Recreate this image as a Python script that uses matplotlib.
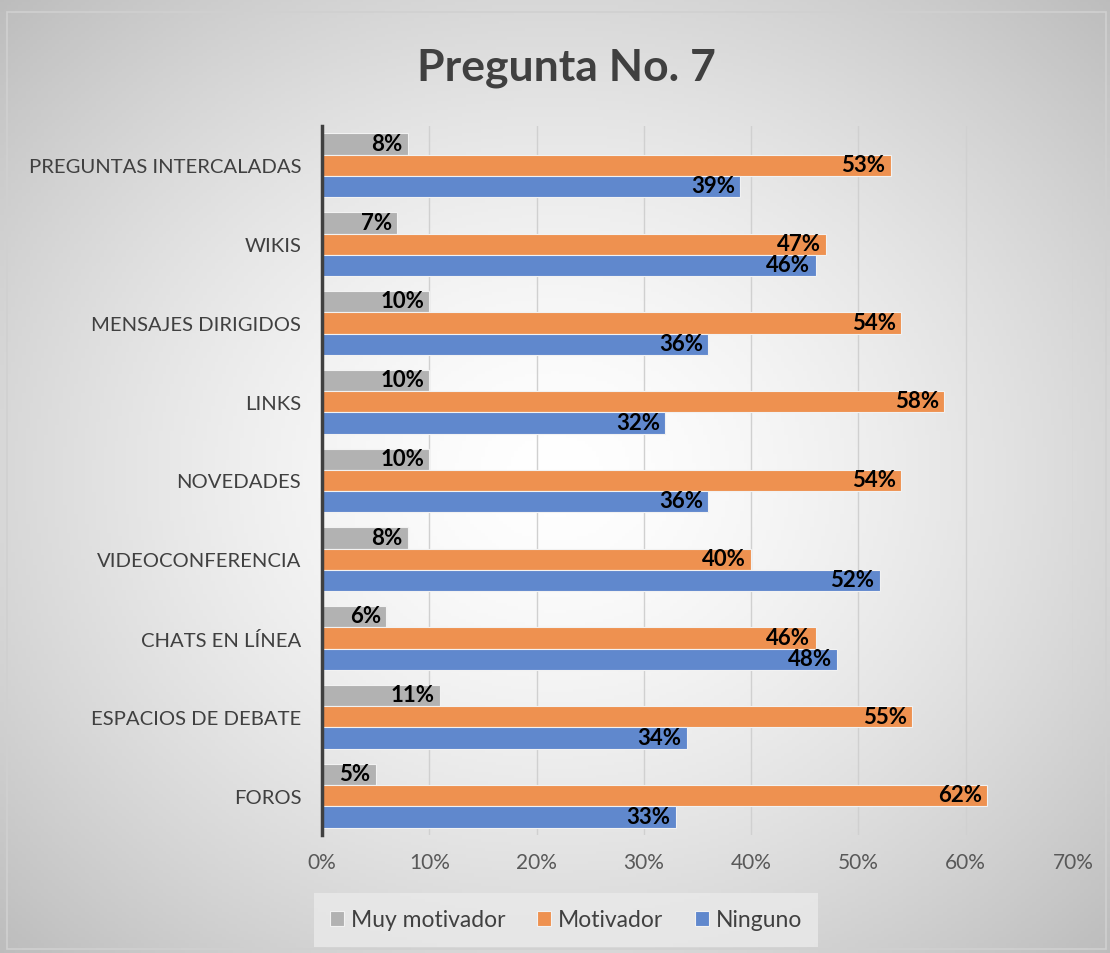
import numpy as np
import matplotlib.pyplot as plt
from matplotlib.patches import Rectangle

# Datos (de abajo hacia arriba)
categorias = ["FOROS", "ESPACIOS DE DEBATE", "CHATS EN LÍNEA", "VIDEOCONFERENCIA",
              "NOVEDADES", "LINKS", "MENSAJES DIRIGIDOS", "WIKIS", "PREGUNTAS INTERCALADAS"]
muy_motivador = [5, 11, 6, 8, 10, 10, 10, 7, 8]
motivador = [62, 55, 46, 40, 54, 58, 54, 47, 53]
ninguno = [33, 34, 48, 52, 36, 32, 36, 46, 39]

series = [("Muy motivador", muy_motivador, "#B2B2B2"),
          ("Motivador", motivador, "#EE9150"),
          ("Ninguno", ninguno, "#6088CD")]

plt.rcParams['font.family'] = ['Lato', 'DejaVu Sans']

fig = plt.figure(figsize=(11.1, 9.54), dpi=100)

# Fondo con degradado radial
bg = fig.add_axes([0, 0, 1, 1])
yy, xx = np.mgrid[-1:1:300j, -1:1:300j]
r = np.sqrt(xx**2 + yy**2) / np.sqrt(2)
grad = 1.0 - 0.26 * r**1.5
bg.imshow(np.dstack([grad, grad, grad]), extent=[0, 1, 0, 1], aspect='auto', zorder=0)
bg.add_patch(Rectangle((0.006, 0.004), 0.99, 0.982, fill=False, edgecolor="#D0D0D0", lw=1.2))
bg.set_xlim(0, 1)
bg.set_ylim(0, 1)
bg.axis('off')

ax = fig.add_axes([322 / 1110, 1 - 836 / 954, (1073 - 322) / 1110, (836 - 127) / 954])
ax.set_facecolor('none')

y = np.arange(len(categorias))
h = 0.27
offsets = [h, 0, -h]
for (nombre, vals, color), off in zip(series, offsets):
    bars = ax.barh(y + off, vals, height=h, color=color, edgecolor="#F2F2F2",
                   linewidth=0.8, label=nombre, zorder=3)
    for b, v in zip(bars, vals):
        ax.text(b.get_width() - 0.5, b.get_y() + b.get_height() / 2 + 0.01, f"{v}%",
                ha='right', va='center', fontsize=16, fontweight='bold',
                color='black', zorder=4)

ax.set_xlim(0, 70)
ax.set_ylim(-0.5, len(categorias) - 0.5)
ax.set_xticks(range(0, 71, 10))
ax.set_xticklabels([f"{t}%" for t in range(0, 71, 10)], fontsize=15, color="#595959")
ax.set_yticks(y)
ax.set_yticklabels(categorias, fontsize=14.6, color="#404040")
ax.tick_params(axis='both', length=0, pad=12)
ax.tick_params(axis='y', pad=15)
ax.grid(axis='x', color="#D0D0D0", lw=1, zorder=0)
for s in ['top', 'right', 'bottom']:
    ax.spines[s].set_visible(False)
ax.spines['left'].set_color("#404040")
ax.spines['left'].set_linewidth(2.5)
ax.spines['left'].set_zorder(5)

fig.text(566 / 1110, 1 - 68 / 954, "Pregunta No. 7", ha='center', va='center',
         fontsize=32, fontweight='bold', color="#404040")

leg = fig.legend(loc='center', bbox_to_anchor=(566 / 1110, 1 - 921 / 954), ncol=3,
                 fontsize=16.5, frameon=True, fancybox=False, handlelength=0.6,
                 handleheight=0.6, handletextpad=0.3, columnspacing=1.4,
                 borderpad=0.7, borderaxespad=0)
leg.get_frame().set_facecolor("#EAEAEA")
leg.get_frame().set_edgecolor("none")
for t in leg.get_texts():
    t.set_color("#404040")

fig.savefig("out.png", dpi=100)
